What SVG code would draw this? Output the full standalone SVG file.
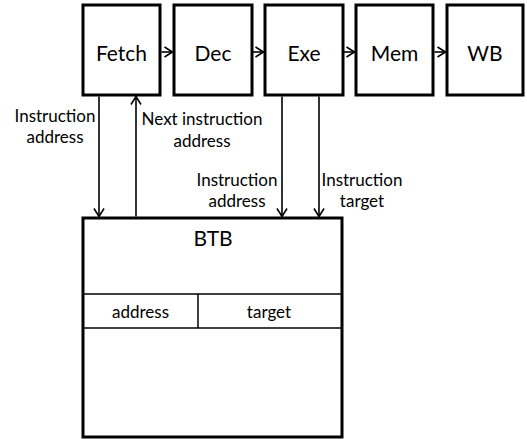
<svg xmlns="http://www.w3.org/2000/svg" width="527" height="439" viewBox="0 0 527 439">
  <style>
    .box { fill: #ffffff; stroke: #000000; stroke-width: 3; }
    .cell { fill: none; stroke: #000000; stroke-width: 1.5; }
    .wire { fill: none; stroke: #000000; stroke-width: 1.6; }
    .title { font-family: Lato, "Noto Sans", sans-serif; font-size: 21px; fill: #000000; text-anchor: middle; }
    .label { font-family: Lato, "Noto Sans", sans-serif; font-size: 17px; fill: #000000; text-anchor: middle; }
  </style>
  <defs>
    <marker id="chev" viewBox="-10 -7 12 14" refX="0" refY="0" markerWidth="12" markerHeight="14" markerUnits="userSpaceOnUse" orient="auto">
      <path d="M-8,-5 L0,0 L-8,5" fill="none" stroke="#000000" stroke-width="1.6"/>
    </marker>
  </defs>

  <!-- pipeline stages -->
  <g id="fetch">
    <rect class="box" x="83" y="5" width="77" height="90"/>
    <text class="title" x="121.5" y="61">Fetch</text>
  </g>
  <g id="dec">
    <rect class="box" x="174" y="5" width="78" height="90"/>
    <text class="title" x="213" y="61">Dec</text>
  </g>
  <g id="exe">
    <rect class="box" x="265" y="5" width="78" height="90"/>
    <text class="title" x="304" y="61">Exe</text>
  </g>
  <g id="mem">
    <rect class="box" x="356" y="5" width="77" height="90"/>
    <text class="title" x="394.5" y="61">Mem</text>
  </g>
  <g id="wb">
    <rect class="box" x="447" y="5" width="76" height="90"/>
    <text class="title" x="485" y="61">WB</text>
  </g>

  <!-- branch target buffer -->
  <g id="btb">
    <rect class="box" x="83" y="218" width="259" height="219"/>
    <text class="title" x="213" y="246">BTB</text>
    <line class="cell" x1="83" y1="294" x2="342" y2="294"/>
    <line class="cell" x1="83" y1="328" x2="342" y2="328"/>
    <line class="cell" x1="198" y1="294" x2="198" y2="328"/>
    <text class="label" x="140.5" y="318">address</text>
    <text class="label" x="269" y="318">target</text>
  </g>

  <!-- connectors -->
  <g id="connectors">
    <line class="wire" x1="161.5" y1="52" x2="172.5" y2="52" marker-end="url(#chev)"/>
    <line class="wire" x1="252.5" y1="52" x2="263.5" y2="52" marker-end="url(#chev)"/>
    <line class="wire" x1="343.5" y1="52" x2="354.5" y2="52" marker-end="url(#chev)"/>
    <line class="wire" x1="434.5" y1="52" x2="445.5" y2="52" marker-end="url(#chev)"/>

    <line class="wire" x1="99" y1="96.5" x2="99" y2="216.5" marker-end="url(#chev)"/>
    <line class="wire" x1="136" y1="216.5" x2="136" y2="96.5" marker-end="url(#chev)"/>
    <line class="wire" x1="282" y1="96.5" x2="282" y2="216.5" marker-end="url(#chev)"/>
    <line class="wire" x1="319" y1="96.5" x2="319" y2="216.5" marker-end="url(#chev)"/>
  </g>

  <!-- connector labels -->
  <g id="labels">
    <text class="label" x="55" y="122">Instruction</text>
    <text class="label" x="55" y="143">address</text>
    <text class="label" x="202" y="125">Next instruction</text>
    <text class="label" x="202" y="147">address</text>
    <text class="label" x="237" y="186">Instruction</text>
    <text class="label" x="237" y="207">address</text>
    <text class="label" x="362" y="186">Instruction</text>
    <text class="label" x="362" y="207">target</text>
  </g>
</svg>
